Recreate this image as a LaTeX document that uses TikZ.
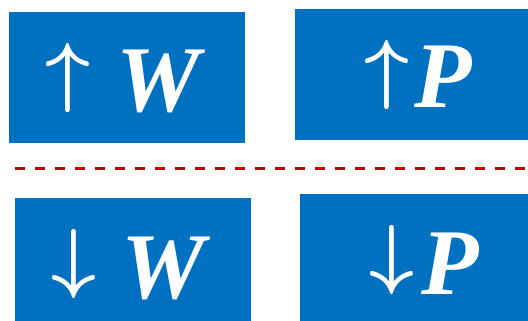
\documentclass[tikz,border=0pt]{standalone}
\usepackage{fontspec}
\usepackage{graphicx}
\newfontfamily\letterfont{Liberation Serif}
\definecolor{boxblue}{HTML}{0070C0}
\definecolor{dashred}{HTML}{C00000}
\newcommand{\bigglyph}[1]{\scalebox{7.8}{\boldmath$#1$}}
\begin{document}
\begin{tikzpicture}[x=1pt,y=-1pt,
  box/.style={fill=boxblue, draw=none, inner sep=0pt},
  arrowglyph/.style={text=white, inner sep=0pt, anchor=center},
  letter/.style={text=white, inner sep=0pt, anchor=base, font=\fontsize{94}{94}\selectfont\letterfont\bfseries\itshape},
  divider/.style={draw=dashred, line width=3pt, dash pattern=on 10pt off 10pt}]
\useasboundingbox (0,0) rectangle (528,321);
\node[box, minimum width=236pt, minimum height=131pt] (tl) at (127,77.5) {};
\node[box, minimum width=233pt, minimum height=131pt] (tr) at (411.5,74.5) {};
\node[box, minimum width=236pt, minimum height=123pt] (bl) at (133,259.5) {};
\node[box, minimum width=228pt, minimum height=127pt] (br) at (414,257.5) {};
\node[arrowglyph] (tla) at (68,78.5) {\bigglyph{\uparrow}};
\node[letter] (tlw) at (158,111) {W};
\node[arrowglyph] (tra) at (387,75) {\bigglyph{\uparrow}};
\node[letter] (trp) at (443,108) {P};
\node[arrowglyph] (bla) at (74,263.5) {\bigglyph{\downarrow}};
\node[letter] (blw) at (163,298) {W};
\node[arrowglyph] (bra) at (392,260) {\bigglyph{\downarrow}};
\node[letter] (brp) at (450,294) {P};
\coordinate (dl) at (15,168);
\coordinate (dr) at (528,168);
\draw[divider] (dl) -- (dr);
\end{tikzpicture}
\end{document}
